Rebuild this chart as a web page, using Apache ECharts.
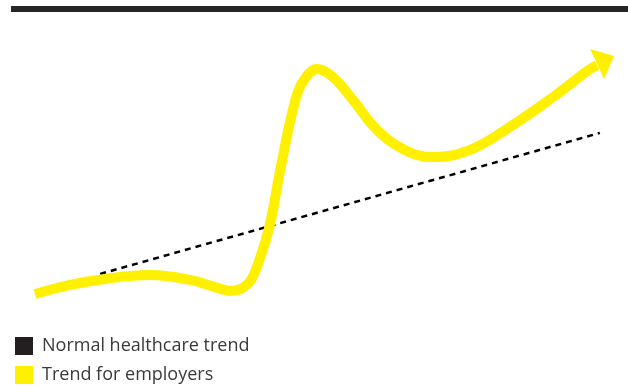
<!DOCTYPE html>
<html>
<head>
<meta charset="utf-8">
<script src="https://cdn.jsdelivr.net/npm/echarts@6/dist/echarts.min.js"></script>
<style>
  html, body { margin: 0; padding: 0; background: #fff; }
  #chart { width: 628px; height: 387px; }
</style>
</head>
<body>
<div id="chart"></div>
<script>
// x = time (0-100), y = cost level (0-100)
const employerX = [0, 6.1, 12.1, 19.9, 26.9, 31.2, 33.8, 36.9, 39.0, 40.7, 42.5, 44.9, 46.4, 48.9, 51.6, 55.1, 59.3, 64.1, 69.0, 75.4, 82.3, 89.8, 95.7, 97.4];
const employerY = [0, 3.8, 6.3, 7.9, 5.9, 2.9, 1.3, 4.2, 15.1, 28.9, 51.9, 79.1, 88.7, 94.1, 90.8, 81.2, 68.6, 60.3, 57.3, 60.3, 69.9, 82.4, 93.3, 95.8];
const normalX = [11.3, 97.9];
const normalY = [8.4, 67.4];
const arrowTip = [98.9, 97.9];

const legendNames = ['Normal healthcare trend', 'Trend for employers'];
const BLACK = '#231f20';
const YELLOW = '#fff000';

const chart = echarts.init(document.getElementById('chart'));

const zip = (xs, ys) => xs.map((x, i) => [x, ys[i]]);

chart.setOption({
  animation: false,
  grid: { left: 35, right: 16, top: 55, bottom: 93 },
  xAxis: { type: 'value', min: 0, max: 100, show: false },
  yAxis: { type: 'value', min: 0, max: 100, show: false },
  legend: {
    orient: 'vertical',
    left: 15,
    top: 337,
    padding: 0,
    icon: 'rect',
    itemWidth: 18,
    itemHeight: 18,
    itemGap: 11,
    textStyle: { fontFamily: 'Open Sans', fontSize: 18, color: '#3a3a3a', padding: [0, 0, 0, 4] },
    data: [
      { name: legendNames[0], itemStyle: { color: BLACK } },
      { name: legendNames[1], itemStyle: { color: YELLOW } }
    ]
  },
  graphic: [
    { type: 'rect', shape: { x: 11, y: 6, width: 617, height: 6 }, style: { fill: '#262626' } }
  ],
  series: [
    {
      name: legendNames[0],
      type: 'line',
      data: zip(normalX, normalY),
      showSymbol: false,
      clip: false,
      itemStyle: { color: BLACK },
      lineStyle: { color: '#000', width: 2.5, type: [6, 5] }
    },
    {
      name: legendNames[1],
      type: 'line',
      data: zip(employerX, employerY),
      smooth: 0.4,
      showSymbol: false,
      clip: false,
      itemStyle: { color: YELLOW },
      lineStyle: { color: YELLOW, width: 10, cap: 'butt', join: 'round' }
    },
    {
      name: legendNames[1],
      type: 'scatter',
      data: [arrowTip],
      symbol: 'triangle',
      symbolSize: [33, 19],
      symbolRotate: -65,
      clip: false,
      itemStyle: { color: YELLOW, opacity: 1 }
    }
  ]
});
</script>
</body>
</html>
